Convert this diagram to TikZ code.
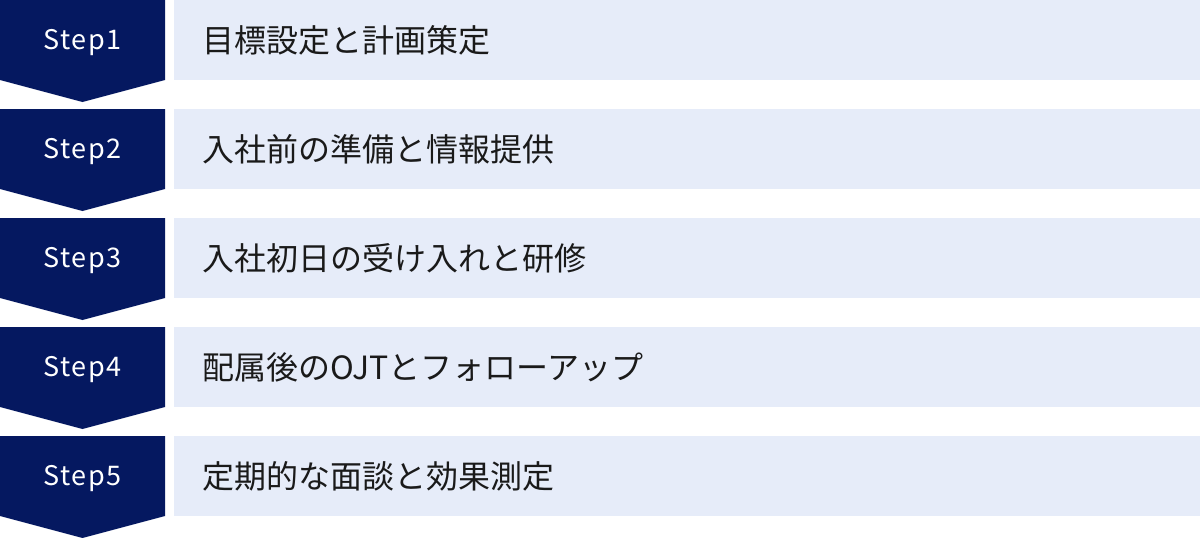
\documentclass[tikz,border=0pt]{standalone}
\usepackage{fontspec}
\setmainfont{Noto Sans CJK JP}
\newfontfamily\steplatin[LetterSpace=6]{Noto Sans CJK JP}
\definecolor{stepnavy}{RGB}{5,24,96}
\definecolor{tasklight}{RGB}{230,236,249}
\definecolor{taskink}{RGB}{26,26,26}

\begin{document}
\begin{tikzpicture}[x=1pt, y=-1pt,
    stepbox/.style={fill=stepnavy},
    taskbox/.style={fill=tasklight},
    steplabel/.style={text=white, inner sep=0pt, font=\steplatin\fontsize{27}{30}\selectfont},
    tasklabel/.style={text=taskink, anchor=west, inner sep=0pt, font=\fontsize{32}{36}\selectfont}]
        % Canvas
        \useasboundingbox (0,0) rectangle (1200,538);

        % Step 1
        \fill[stepbox] (0,0) -- (165,0) -- (165,80) -- (82.5,102) -- (0,80) -- cycle;
        \fill[taskbox] (174,0) rectangle (1200,80);
        \node[steplabel] (s1) at (82.5,43) {Step1};
        \node[tasklabel] (t1) at (202,40) {目標設定と計画策定};

        % Step 2
        \fill[stepbox] (0,109) -- (165,109) -- (165,189) -- (82.5,211) -- (0,189) -- cycle;
        \fill[taskbox] (174,109) rectangle (1200,189);
        \node[steplabel] (s2) at (82.5,152) {Step2};
        \node[tasklabel] (t2) at (202,149) {入社前の準備と情報提供};

        % Step 3
        \fill[stepbox] (0,218) -- (165,218) -- (165,298) -- (82.5,320) -- (0,298) -- cycle;
        \fill[taskbox] (174,218) rectangle (1200,298);
        \node[steplabel] (s3) at (82.5,261) {Step3};
        \node[tasklabel] (t3) at (202,258) {入社初日の受け入れと研修};

        % Step 4
        \fill[stepbox] (0,327) -- (165,327) -- (165,407) -- (82.5,429) -- (0,407) -- cycle;
        \fill[taskbox] (174,327) rectangle (1200,407);
        \node[steplabel] (s4) at (82.5,370) {Step4};
        \node[tasklabel] (t4) at (202,367) {配属後のOJTとフォローアップ};

        % Step 5
        \fill[stepbox] (0,436) -- (165,436) -- (165,516) -- (82.5,538) -- (0,516) -- cycle;
        \fill[taskbox] (174,436) rectangle (1200,516);
        \node[steplabel] (s5) at (82.5,479) {Step5};
        \node[tasklabel] (t5) at (202,476) {定期的な面談と効果測定};
    \end{tikzpicture}
\end{document}
